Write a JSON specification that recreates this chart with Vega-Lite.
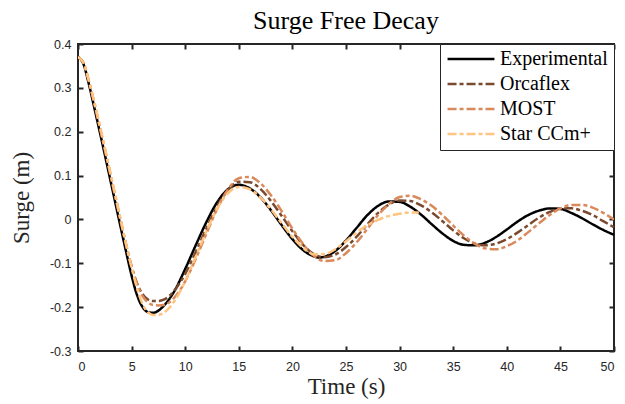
{
"$schema":"https://vega.github.io/schema/vega-lite/v6.json",
"width":536,"height":307,
"autosize":"none",
"padding":{"left":78,"top":44,"right":11,"bottom":53},
"background":"white",
"title":{"text":"Surge Free Decay","font":"Liberation Serif","fontSize":26,"fontWeight":"normal","color":"black","offset":4},
"config":{"view":{"stroke":"#262626","strokeWidth":2},
"axis":{"gridColor":"#dedede","gridWidth":1.5,"gridOpacity":1,"domain":false,"tickColor":"#262626","tickWidth":2,"tickSize":-5,"labelFont":"Liberation Sans","labelFontSize":12.5,"labelColor":"#262626","titleFont":"Liberation Serif","titleFontSize":23,"titleFontWeight":"normal","titleColor":"#262626"}},
"data":{"values":[
{"s":"Experimental","t":0,"v":0.37},{"s":"Experimental","t":0.5,"v":0.355},{"s":"Experimental","t":1,"v":0.31},{"s":"Experimental","t":1.5,"v":0.257},{"s":"Experimental","t":2,"v":0.203},{"s":"Experimental","t":2.5,"v":0.148},{"s":"Experimental","t":3,"v":0.092},{"s":"Experimental","t":3.5,"v":0.036},{"s":"Experimental","t":4,"v":-0.02},{"s":"Experimental","t":4.5,"v":-0.075},{"s":"Experimental","t":5,"v":-0.128},{"s":"Experimental","t":5.5,"v":-0.172},{"s":"Experimental","t":6,"v":-0.199},{"s":"Experimental","t":6.5,"v":-0.211},{"s":"Experimental","t":7,"v":-0.213},{"s":"Experimental","t":7.5,"v":-0.208},{"s":"Experimental","t":8,"v":-0.197},{"s":"Experimental","t":9,"v":-0.163},{"s":"Experimental","t":10,"v":-0.113},{"s":"Experimental","t":11,"v":-0.058},{"s":"Experimental","t":12,"v":-0.005},{"s":"Experimental","t":13,"v":0.04},{"s":"Experimental","t":14,"v":0.069},{"s":"Experimental","t":15,"v":0.079},{"s":"Experimental","t":16,"v":0.071},{"s":"Experimental","t":17,"v":0.051},{"s":"Experimental","t":18,"v":0.021},{"s":"Experimental","t":19,"v":-0.013},{"s":"Experimental","t":20,"v":-0.045},{"s":"Experimental","t":21,"v":-0.07},{"s":"Experimental","t":22,"v":-0.084},{"s":"Experimental","t":22.5,"v":-0.087},{"s":"Experimental","t":23,"v":-0.085},{"s":"Experimental","t":24,"v":-0.072},{"s":"Experimental","t":25,"v":-0.048},{"s":"Experimental","t":26,"v":-0.019},{"s":"Experimental","t":27,"v":0.01},{"s":"Experimental","t":28,"v":0.031},{"s":"Experimental","t":29,"v":0.041},{"s":"Experimental","t":30,"v":0.04},{"s":"Experimental","t":31,"v":0.029},{"s":"Experimental","t":32,"v":0.011},{"s":"Experimental","t":33,"v":-0.011},{"s":"Experimental","t":34,"v":-0.032},{"s":"Experimental","t":35,"v":-0.049},{"s":"Experimental","t":36,"v":-0.058},{"s":"Experimental","t":37,"v":-0.059},{"s":"Experimental","t":38,"v":-0.053},{"s":"Experimental","t":39,"v":-0.04},{"s":"Experimental","t":40,"v":-0.023},{"s":"Experimental","t":41,"v":-0.005},{"s":"Experimental","t":42,"v":0.01},{"s":"Experimental","t":43,"v":0.02},{"s":"Experimental","t":44,"v":0.025},{"s":"Experimental","t":45,"v":0.024},{"s":"Experimental","t":46,"v":0.015},{"s":"Experimental","t":47,"v":0.003},{"s":"Experimental","t":48,"v":-0.011},{"s":"Experimental","t":49,"v":-0.024},{"s":"Experimental","t":50,"v":-0.035},
{"s":"Orcaflex","t":0,"v":0.37},{"s":"Orcaflex","t":0.5,"v":0.357},{"s":"Orcaflex","t":1,"v":0.315},{"s":"Orcaflex","t":1.5,"v":0.265},{"s":"Orcaflex","t":2,"v":0.212},{"s":"Orcaflex","t":2.5,"v":0.158},{"s":"Orcaflex","t":3,"v":0.103},{"s":"Orcaflex","t":3.5,"v":0.048},{"s":"Orcaflex","t":4,"v":-0.007},{"s":"Orcaflex","t":4.5,"v":-0.06},{"s":"Orcaflex","t":5,"v":-0.108},{"s":"Orcaflex","t":5.5,"v":-0.145},{"s":"Orcaflex","t":6,"v":-0.17},{"s":"Orcaflex","t":6.5,"v":-0.182},{"s":"Orcaflex","t":7,"v":-0.186},{"s":"Orcaflex","t":7.5,"v":-0.186},{"s":"Orcaflex","t":8,"v":-0.183},{"s":"Orcaflex","t":9,"v":-0.162},{"s":"Orcaflex","t":10,"v":-0.124},{"s":"Orcaflex","t":11,"v":-0.073},{"s":"Orcaflex","t":12,"v":-0.019},{"s":"Orcaflex","t":13,"v":0.03},{"s":"Orcaflex","t":14,"v":0.067},{"s":"Orcaflex","t":15,"v":0.086},{"s":"Orcaflex","t":16,"v":0.085},{"s":"Orcaflex","t":17,"v":0.07},{"s":"Orcaflex","t":18,"v":0.042},{"s":"Orcaflex","t":19,"v":0.008},{"s":"Orcaflex","t":20,"v":-0.027},{"s":"Orcaflex","t":21,"v":-0.058},{"s":"Orcaflex","t":22,"v":-0.079},{"s":"Orcaflex","t":23,"v":-0.086},{"s":"Orcaflex","t":24,"v":-0.08},{"s":"Orcaflex","t":25,"v":-0.063},{"s":"Orcaflex","t":26,"v":-0.039},{"s":"Orcaflex","t":27,"v":-0.011},{"s":"Orcaflex","t":28,"v":0.015},{"s":"Orcaflex","t":29,"v":0.034},{"s":"Orcaflex","t":30,"v":0.043},{"s":"Orcaflex","t":31,"v":0.042},{"s":"Orcaflex","t":32,"v":0.032},{"s":"Orcaflex","t":33,"v":0.016},{"s":"Orcaflex","t":34,"v":-0.004},{"s":"Orcaflex","t":35,"v":-0.025},{"s":"Orcaflex","t":36,"v":-0.043},{"s":"Orcaflex","t":37,"v":-0.055},{"s":"Orcaflex","t":38,"v":-0.059},{"s":"Orcaflex","t":39,"v":-0.055},{"s":"Orcaflex","t":40,"v":-0.045},{"s":"Orcaflex","t":41,"v":-0.03},{"s":"Orcaflex","t":42,"v":-0.013},{"s":"Orcaflex","t":43,"v":0.004},{"s":"Orcaflex","t":44,"v":0.017},{"s":"Orcaflex","t":45,"v":0.025},{"s":"Orcaflex","t":46,"v":0.0255},{"s":"Orcaflex","t":47,"v":0.02},{"s":"Orcaflex","t":48,"v":0.01},{"s":"Orcaflex","t":49,"v":-0.004},{"s":"Orcaflex","t":50,"v":-0.018},
{"s":"MOST","t":0,"v":0.37},{"s":"MOST","t":0.5,"v":0.357},{"s":"MOST","t":1,"v":0.317},{"s":"MOST","t":1.5,"v":0.268},{"s":"MOST","t":2,"v":0.215},{"s":"MOST","t":2.5,"v":0.161},{"s":"MOST","t":3,"v":0.106},{"s":"MOST","t":3.5,"v":0.051},{"s":"MOST","t":4,"v":-0.004},{"s":"MOST","t":4.5,"v":-0.058},{"s":"MOST","t":5,"v":-0.107},{"s":"MOST","t":5.5,"v":-0.147},{"s":"MOST","t":6,"v":-0.174},{"s":"MOST","t":6.5,"v":-0.189},{"s":"MOST","t":7,"v":-0.195},{"s":"MOST","t":7.5,"v":-0.196},{"s":"MOST","t":8,"v":-0.195},{"s":"MOST","t":9,"v":-0.178},{"s":"MOST","t":10,"v":-0.141},{"s":"MOST","t":11,"v":-0.089},{"s":"MOST","t":12,"v":-0.031},{"s":"MOST","t":13,"v":0.025},{"s":"MOST","t":14,"v":0.069},{"s":"MOST","t":15,"v":0.094},{"s":"MOST","t":16,"v":0.097},{"s":"MOST","t":17,"v":0.083},{"s":"MOST","t":18,"v":0.055},{"s":"MOST","t":19,"v":0.019},{"s":"MOST","t":20,"v":-0.021},{"s":"MOST","t":21,"v":-0.056},{"s":"MOST","t":22,"v":-0.083},{"s":"MOST","t":23,"v":-0.095},{"s":"MOST","t":24,"v":-0.093},{"s":"MOST","t":25,"v":-0.077},{"s":"MOST","t":26,"v":-0.052},{"s":"MOST","t":27,"v":-0.021},{"s":"MOST","t":28,"v":0.01},{"s":"MOST","t":29,"v":0.035},{"s":"MOST","t":30,"v":0.051},{"s":"MOST","t":31,"v":0.054},{"s":"MOST","t":32,"v":0.046},{"s":"MOST","t":33,"v":0.031},{"s":"MOST","t":34,"v":0.01},{"s":"MOST","t":35,"v":-0.014},{"s":"MOST","t":36,"v":-0.037},{"s":"MOST","t":37,"v":-0.055},{"s":"MOST","t":38,"v":-0.066},{"s":"MOST","t":39,"v":-0.068},{"s":"MOST","t":40,"v":-0.061},{"s":"MOST","t":41,"v":-0.048},{"s":"MOST","t":42,"v":-0.029},{"s":"MOST","t":43,"v":-0.009},{"s":"MOST","t":44,"v":0.01},{"s":"MOST","t":45,"v":0.025},{"s":"MOST","t":46,"v":0.033},{"s":"MOST","t":47,"v":0.033},{"s":"MOST","t":48,"v":0.027},{"s":"MOST","t":49,"v":0.015},{"s":"MOST","t":50,"v":0.0},
{"s":"Star CCm+","t":0,"v":0.37},{"s":"Star CCm+","t":0.5,"v":0.358},{"s":"Star CCm+","t":1,"v":0.318},{"s":"Star CCm+","t":1.5,"v":0.27},{"s":"Star CCm+","t":2,"v":0.218},{"s":"Star CCm+","t":2.5,"v":0.164},{"s":"Star CCm+","t":3,"v":0.109},{"s":"Star CCm+","t":3.5,"v":0.053},{"s":"Star CCm+","t":4,"v":-0.003},{"s":"Star CCm+","t":4.5,"v":-0.058},{"s":"Star CCm+","t":5,"v":-0.11},{"s":"Star CCm+","t":5.5,"v":-0.156},{"s":"Star CCm+","t":6,"v":-0.192},{"s":"Star CCm+","t":6.5,"v":-0.211},{"s":"Star CCm+","t":7,"v":-0.218},{"s":"Star CCm+","t":7.5,"v":-0.218},{"s":"Star CCm+","t":8,"v":-0.213},{"s":"Star CCm+","t":9,"v":-0.186},{"s":"Star CCm+","t":10,"v":-0.141},{"s":"Star CCm+","t":11,"v":-0.084},{"s":"Star CCm+","t":12,"v":-0.026},{"s":"Star CCm+","t":13,"v":0.025},{"s":"Star CCm+","t":14,"v":0.06},{"s":"Star CCm+","t":15,"v":0.074},{"s":"Star CCm+","t":16,"v":0.069},{"s":"Star CCm+","t":17,"v":0.051},{"s":"Star CCm+","t":18,"v":0.023},{"s":"Star CCm+","t":19,"v":-0.009},{"s":"Star CCm+","t":20,"v":-0.04},{"s":"Star CCm+","t":21,"v":-0.065},{"s":"Star CCm+","t":22,"v":-0.0795},{"s":"Star CCm+","t":23,"v":-0.079},{"s":"Star CCm+","t":24,"v":-0.068},{"s":"Star CCm+","t":25,"v":-0.05},{"s":"Star CCm+","t":26,"v":-0.03},{"s":"Star CCm+","t":27,"v":-0.013},{"s":"Star CCm+","t":28,"v":-0.001},{"s":"Star CCm+","t":29,"v":0.008},{"s":"Star CCm+","t":30,"v":0.013},{"s":"Star CCm+","t":31,"v":0.016},{"s":"Star CCm+","t":31.8,"v":0.016}
]},
"layer":[
{"mark":{"type":"line","opacity":0},
"encoding":{
"x":{"field":"t","type":"quantitative","scale":{"domain":[0,50],"nice":false,"zero":false},"axis":{"orient":"top","values":[0,5,10,15,20,25,30,35,40,45,50],"labels":false,"grid":false,"title":null,"ticks":true,"tickSize":-5,"tickColor":"#262626","tickWidth":2}},
"y":{"field":"v","type":"quantitative","scale":{"domain":[-0.3,0.4],"nice":false,"zero":false},"axis":{"orient":"right","values":[-0.3,-0.2,-0.1,0,0.1,0.2,0.3,0.4],"labels":false,"grid":false,"title":null,"ticks":true,"tickSize":-5,"tickColor":"#262626","tickWidth":2}},
"detail":{"field":"s"}
}},
{"mark":{"type":"line","strokeWidth":2.5,"interpolate":"monotone","clip":true},
"encoding":{
"x":{"field":"t","type":"quantitative","scale":{"domain":[0,50],"nice":false,"zero":false},"axis":{"orient":"bottom","values":[0,5,10,15,20,25,30,35,40,45,50],"title":"Time (s)","labelPadding":14,"titlePadding":3}},
"y":{"field":"v","type":"quantitative","scale":{"domain":[-0.3,0.4],"nice":false,"zero":false},"axis":{"orient":"left","values":[-0.3,-0.2,-0.1,0,0.1,0.2,0.3,0.4],"labelExpr":"datum.value == 0 ? '0' : replace(format(datum.value, '.1f'), '\u2212', '-')","title":"Surge (m)","labelPadding":12,"titlePadding":16}},
"color":{"field":"s","type":"nominal","sort":["Experimental","Orcaflex","MOST","Star CCm+"],"scale":{"domain":["Experimental","Orcaflex","MOST","Star CCm+"],"range":["#000000","#7b4a2e","#d9895a","#ffc47f"]},"legend":{"title":null,"orient":"top-right","offset":0,"strokeColor":"#262626","fillColor":"white","padding":6,"symbolType":"stroke","symbolSize":2200,"clipHeight":18,"symbolStrokeWidth":2.5,"labelFont":"Liberation Serif","labelFontSize":20,"labelColor":"black","rowPadding":5,"labelOffset":4}},
"strokeDash":{"field":"s","type":"nominal","sort":["Experimental","Orcaflex","MOST","Star CCm+"],"scale":{"domain":["Experimental","Orcaflex","MOST","Star CCm+"],"range":[[1,0],[9,3,4,3],[9,3,4,3],[9,3,4,3]]},"legend":{"title":null,"orient":"top-right","offset":0,"strokeColor":"#262626","fillColor":"white","padding":6,"symbolType":"stroke","symbolSize":2200,"clipHeight":18,"symbolStrokeWidth":2.5,"labelFont":"Liberation Serif","labelFontSize":20,"labelColor":"black","rowPadding":5,"labelOffset":4}},
"order":{"field":"s"}
}}
],
"resolve":{"scale":{"x":"independent","y":"independent"},"axis":{"x":"independent","y":"independent"}}
}
